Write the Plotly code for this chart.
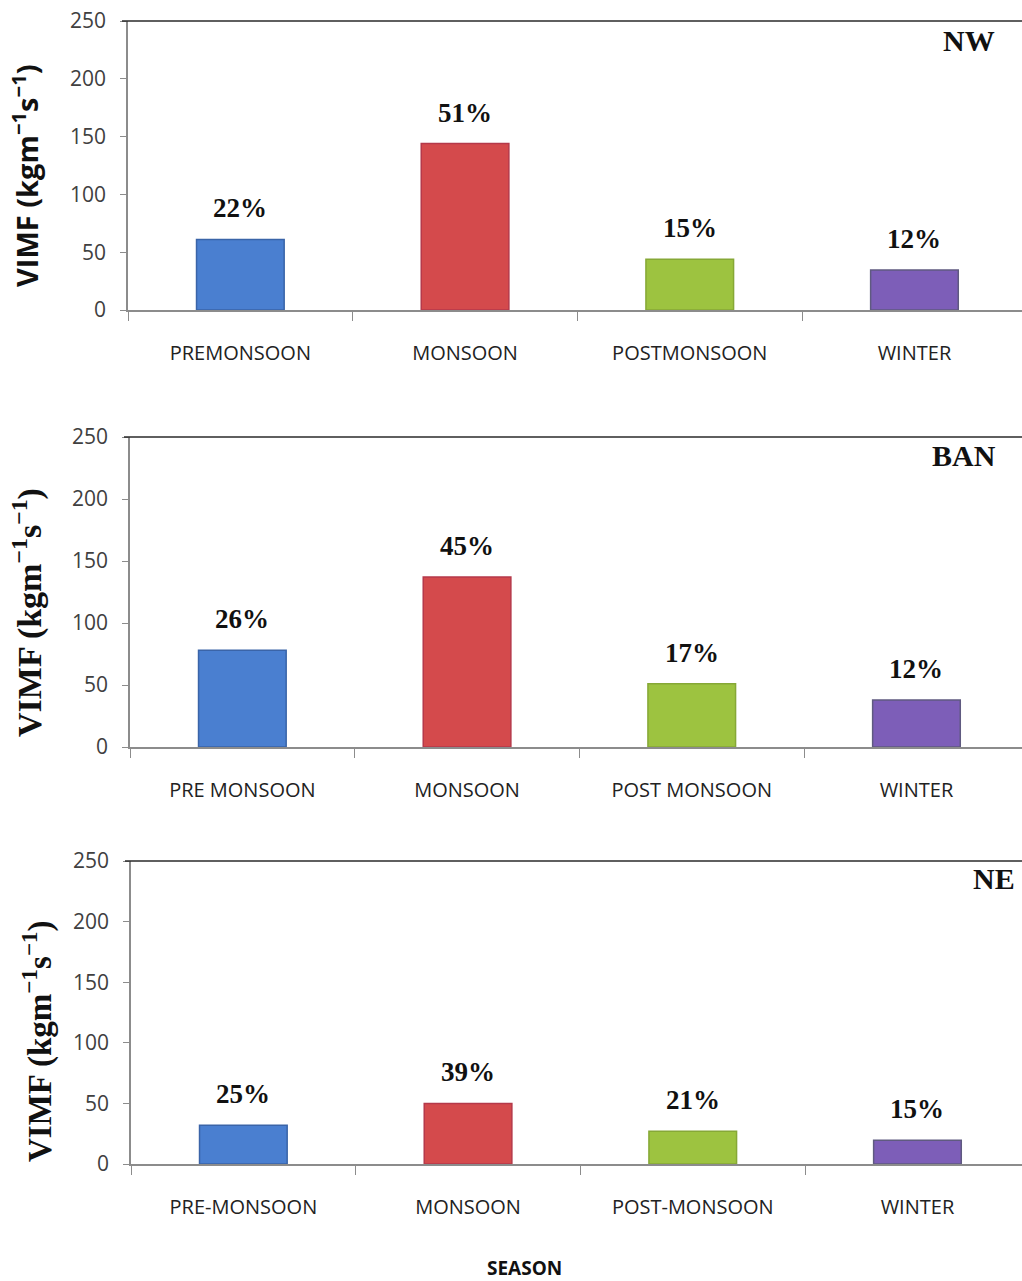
import plotly.graph_objects as go

# Seasonal vertically integrated moisture flux (VIMF) for three regions
regions = ["NW", "BAN", "NE"]

seasons_nw = ["PREMONSOON", "MONSOON", "POSTMONSOON", "WINTER"]
seasons_ban = ["PRE MONSOON", "MONSOON", "POST MONSOON", "WINTER"]
seasons_ne = ["PRE-MONSOON", "MONSOON", "POST-MONSOON", "WINTER"]

vimf_nw = [61, 144, 44, 34.5]
vimf_ban = [78, 137, 51, 38]
vimf_ne = [32, 50, 27, 19.5]

share_nw = [22, 51, 15, 12]
share_ban = [26, 45, 17, 12]
share_ne = [25, 39, 21, 15]

y_ticks = [0, 50, 100, 150, 200, 250]

bar_fill = ["#4a7fd0", "#d44a4c", "#9dc340", "#7d5eb8"]
bar_edge = ["#3a64a8", "#b5394a", "#86a836", "#5f5a80"]

W, H = 1022, 1281
panels = [
    dict(cats=seasons_nw, vals=vimf_nw, pct=share_nw, name=regions[0],
         top=21, bottom=310, left=128, title_font=dict(family="Open Sans", size=29, color="#111", weight="bold"),
         title_x=25, title_y=176, tag_right=997, tag_y=40),
    dict(cats=seasons_ban, vals=vimf_ban, pct=share_ban, name=regions[1],
         top=437, bottom=747, left=130, title_font=dict(family="Liberation Serif", size=34, color="#111", weight="bold"),
         title_x=27, title_y=613, tag_right=998, tag_y=456),
    dict(cats=seasons_ne, vals=vimf_ne, pct=share_ne, name=regions[2],
         top=861, bottom=1164, left=131, title_font=dict(family="Liberation Serif", size=33, color="#111", weight="bold"),
         title_x=37, title_y=1041, tag_right=1017, tag_y=878),
]

cat_step = 224.7

fig = go.Figure()
layout = dict(
    width=W, height=H,
    margin=dict(l=0, r=0, t=0, b=0, autoexpand=False),
    paper_bgcolor="white", plot_bgcolor="white",
    showlegend=False,
)
annotations = []
shapes = []

for i, p in enumerate(panels):
    n = "" if i == 0 else str(i + 1)
    xa, ya = "x" + n, "y" + n
    fig.add_trace(go.Bar(
        x=p["cats"], y=p["vals"], width=0.39,
        marker=dict(color=bar_fill, line=dict(color=bar_edge, width=1.5)),
        xaxis=xa, yaxis=ya, hoverinfo="skip",
    ))
    y0 = 1 - p["bottom"] / H
    y1 = 1 - p["top"] / H
    x0 = p["left"] / W
    x_hi = -0.5 + (W - p["left"]) / cat_step
    layout["xaxis" + n] = dict(
        domain=[x0, 1], anchor=ya, type="category", automargin=False,
        range=[-0.5, x_hi],
        showline=True, linecolor="#8c8c8c", linewidth=1.5,
        ticks="outside", ticklen=9, tickcolor="#8c8c8c", tickwidth=1.2,
        tickson="boundaries", ticklabelstandoff=24,
        tickfont=dict(family="Open Sans", size=20, color="#222"),
        showgrid=False, zeroline=False, fixedrange=True,
    )
    layout["yaxis" + n] = dict(
        domain=[y0, y1], anchor=xa, automargin=False,
        range=[0, 250], tickvals=y_ticks,
        showline=True, linecolor="#8c8c8c", linewidth=1.5,
        ticks="outside", ticklen=6, tickcolor="#8c8c8c", tickwidth=1.2,
        ticklabelstandoff=10,
        tickfont=dict(family="Open Sans", size=21, color="#404040"),
        showgrid=False, zeroline=False, fixedrange=True,
    )
    # dark frame line along the top of each panel
    shapes.append(dict(type="line", xref="paper", yref="paper",
                       x0=x0 - 6 / W, x1=1, y0=y1, y1=y1,
                       line=dict(color="#2a2a2a", width=1.6)))
    # percentage share above each bar
    for c, v, s in zip(p["cats"], p["vals"], p["pct"]):
        annotations.append(dict(
            x=c, y=v, xref=xa, yref=ya, text=f"{s}%", showarrow=False,
            yanchor="bottom", yshift=14,
            font=dict(family="Liberation Serif", size=27, color="#111", weight="bold"),
        ))
    # region tag in the upper-right corner
    annotations.append(dict(
        x=p["tag_right"] / W, y=1 - p["tag_y"] / H, xref="paper", yref="paper",
        xanchor="right", yanchor="middle", text=p["name"], showarrow=False,
        font=dict(family="Liberation Serif", size=30, color="#111", weight="bold"),
    ))
    # y axis title
    annotations.append(dict(
        x=p["title_x"] / W, y=1 - p["title_y"] / H,
        xref="paper", yref="paper", textangle=-90,
        xanchor="center", yanchor="middle", showarrow=False,
        text="VIMF (kgm<sup>−1</sup>s<sup>−1</sup>)",
        font=p["title_font"],
    ))

annotations.append(dict(
    x=524 / W, y=1 - 1268 / H, xref="paper", yref="paper",
    xanchor="center", yanchor="middle", showarrow=False,
    text="SEASON", font=dict(family="Open Sans", size=19, color="#111", weight="bold"),
))

layout["annotations"] = annotations
layout["shapes"] = shapes
fig.update_layout(**layout)
fig.write_html("out.html")
